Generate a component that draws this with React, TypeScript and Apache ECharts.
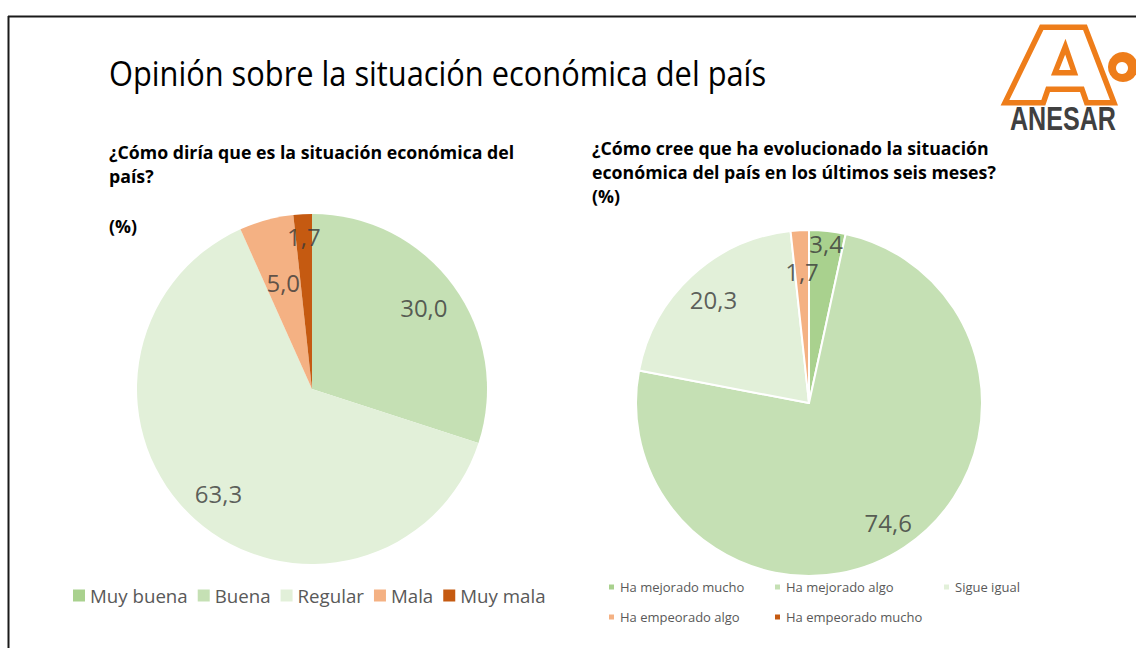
import React, { useEffect, useRef } from "react";
import * as echarts from "echarts";

const leftCategories = ["Muy buena", "Buena", "Regular", "Mala", "Muy mala"];
const leftValues = [0, 30.0, 63.3, 5.0, 1.7];
const rightCategories = [
  "Ha mejorado mucho",
  "Ha mejorado algo",
  "Sigue igual",
  "Ha empeorado algo",
  "Ha empeorado mucho",
];
const rightValues = [3.4, 74.6, 20.3, 1.7, 0];
const palette = ["#A9D18E", "#C5E0B4", "#E2F0D9", "#F4B183", "#C55A11"];

// label placement (fraction of pie radius), as Excel's best-fit put them
const leftLabelRadius = [0.8, 0.79, 0.8, 0.63, 0.875];
const rightLabelRadius = [0.93, 0.83, 0.815, 0.76, 0.8];

const mainTitle = "Opinión sobre la situación económica del país";
const leftSubtitle = ["¿Cómo diría que es la situación económica del", "país?", "(%)"];
const rightSubtitle = [
  "¿Cómo cree que ha evolucionado la situación",
  "económica del país en los últimos seis meses?",
  "(%)",
];

const FONT = "'Open Sans', 'Noto Sans', sans-serif";
const fmt = (v: number) => (v === 0 ? "" : v.toFixed(1).replace(".", ","));

function labelPoints(vals: number[], radii: number[]) {
  const out: any[] = [];
  let acc = 0;
  vals.forEach((v, i) => {
    if (v > 0) out.push([radii[i], acc + v / 2, v]);
    acc += v;
  });
  return out;
}

export default function App() {
  const ref = useRef<HTMLDivElement>(null);
  useEffect(() => {
    if (!ref.current) return;
    const chart = echarts.init(ref.current, null, { renderer: "svg" });
    const orange = "#EE7D1A";
    const lx = (v: number) => v / 3 + 990;
    const ly = (v: number) => v / 3 + 20;
    const pieBase = (center: [number, number], r: number) => ({
      type: "pie",
      center,
      radius: [0, r],
      startAngle: 90,
      clockwise: true,
      silent: true,
      label: { show: false },
      labelLine: { show: false },
      emphasis: { disabled: true },
    });
    const labelSeries = (polarIndex: number, vals: number[], radii: number[]) => ({
      type: "scatter",
      coordinateSystem: "polar",
      polarIndex,
      symbolSize: 1,
      silent: true,
      z: 10,
      itemStyle: { color: "rgba(0,0,0,0)" },
      label: {
        show: true,
        position: "inside",
        color: "#383838",
        fontSize: 24,
        fontFamily: FONT,
        formatter: (p: any) => fmt(p.value[2]),
      },
      emphasis: { disabled: true },
      data: labelPoints(vals, radii),
    });
    const subText = (text: string, x: number, y: number) => ({
      type: "text",
      x,
      y,
      scaleX: 0.985,
      style: {
        text,
        fontSize: 18,
        fontWeight: "bold",
        fontFamily: FONT,
        fill: "#000",
        textAlign: "left",
        textVerticalAlign: "middle",
      },
    });
    const smallLegend = (data: string[], left: number) => ({
      data,
      left,
      top: 579,
      orient: "vertical",
      padding: 0,
      itemWidth: 7,
      itemHeight: 7,
      itemGap: 14,
      icon: "rect",
      selectedMode: false,
      textStyle: { fontSize: 13, lineHeight: 16, color: "#595959", fontFamily: FONT },
    });
    chart.setOption({
      animation: false,
      backgroundColor: "#fff",
      polar: [
        { center: [312, 389], radius: 175 },
        { center: [809, 403], radius: 173 },
      ],
      angleAxis: [
        { polarIndex: 0, type: "value", min: 0, max: 100, startAngle: 90, clockwise: true, show: false },
        { polarIndex: 1, type: "value", min: 0, max: 100, startAngle: 90, clockwise: true, show: false },
      ],
      radiusAxis: [
        { polarIndex: 0, type: "value", min: 0, max: 1, show: false },
        { polarIndex: 1, type: "value", min: 0, max: 1, show: false },
      ],
      legend: [
        {
          data: leftCategories,
          left: 73,
          top: 586,
          padding: 0,
          itemWidth: 12,
          itemHeight: 12,
          itemGap: 10,
          icon: "rect",
          selectedMode: false,
          textStyle: { fontSize: 18.7, color: "#595959", fontFamily: FONT },
        },
        smallLegend([rightCategories[0], rightCategories[3]], 607),
        smallLegend([rightCategories[1], rightCategories[4]], 773),
        smallLegend([rightCategories[2]], 942),
      ],
      series: [
        {
          ...pieBase([312, 389], 175),
          name: "left",
          itemStyle: { borderWidth: 0 },
          data: leftCategories.map((c, i) => ({
            name: c,
            value: leftValues[i],
            itemStyle: { color: palette[i] },
          })),
        },
        {
          ...pieBase([809, 403], 173),
          name: "right",
          itemStyle: { borderColor: "#fff", borderWidth: 2 },
          data: rightCategories.map((c, i) => ({
            name: c,
            value: rightValues[i],
            itemStyle: { color: palette[i] },
          })),
        },
        labelSeries(0, leftValues, leftLabelRadius),
        labelSeries(1, rightValues, rightLabelRadius),
      ],
      graphic: [
        {
          type: "line",
          shape: { x1: 8, y1: 16.5, x2: 1136, y2: 16.5 },
          style: { stroke: "#1a1a1a", lineWidth: 2 },
        },
        {
          type: "line",
          shape: { x1: 8.5, y1: 16, x2: 8.5, y2: 648 },
          style: { stroke: "#1a1a1a", lineWidth: 2 },
        },
        {
          type: "text",
          x: 109,
          y: 73,
          scaleX: 0.88,
          style: {
            text: mainTitle,
            fontSize: 35,
            fontFamily: FONT,
            fill: "#000",
            textAlign: "left",
            textVerticalAlign: "middle",
          },
        },
        subText(leftSubtitle[0], 109, 152),
        subText(leftSubtitle[1], 109, 176),
        subText(leftSubtitle[2], 109, 226),
        subText(rightSubtitle[0], 592, 148),
        subText(rightSubtitle[1], 592, 172),
        subText(rightSubtitle[2], 592, 196),
        // logo
        {
          type: "polygon",
          shape: {
            points: [
              [lx(155), ly(22)],
              [lx(285), ly(22)],
              [lx(372), ly(248)],
              [lx(290), ly(248)],
              [lx(276), ly(208)],
              [lx(174), ly(208)],
              [lx(160), ly(248)],
              [lx(45), ly(248)],
            ],
          },
          style: { fill: "#fff", stroke: orange, lineWidth: 5.5, lineJoin: "miter" },
        },
        {
          type: "polygon",
          shape: {
            points: [
              [lx(226), ly(80)],
              [lx(253), ly(158)],
              [lx(195), ly(158)],
            ],
          },
          style: { fill: "#fff", stroke: orange, lineWidth: 5.5, lineJoin: "miter" },
        },
        { type: "circle", shape: { cx: 1123, cy: 67, r: 15 }, style: { fill: orange } },
        { type: "circle", shape: { cx: 1122, cy: 68, r: 6 }, style: { fill: "#fff" } },
        {
          type: "text",
          x: 1010,
          y: 119,
          scaleX: 0.81,
          scaleY: 1.05,
          style: {
            text: "ANESAR",
            fontSize: 31,
            fontWeight: "bold",
            fontFamily: "'Liberation Sans', Arial, sans-serif",
            fill: "#404040",
            textAlign: "left",
            textVerticalAlign: "middle",
          },
        },
      ],
    });
    return () => chart.dispose();
  }, []);
  return (
    <div
      ref={ref}
      style={{ position: "fixed", left: 0, top: 0, width: 1136, height: 648, background: "#fff" }}
    />
  );
}
